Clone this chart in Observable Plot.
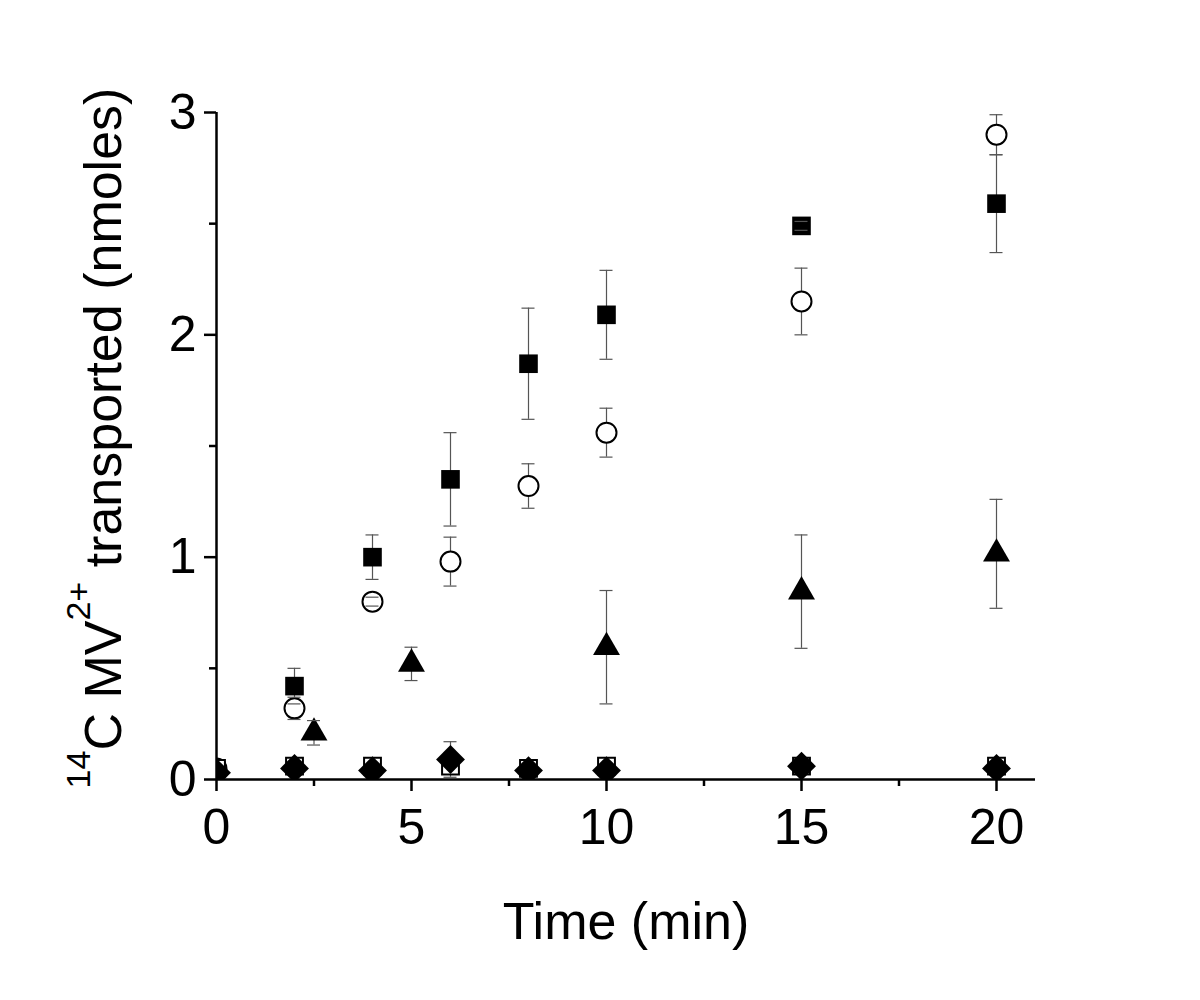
<!DOCTYPE html>
<html>
<head>
<meta charset="utf-8">
<script src="https://cdn.jsdelivr.net/npm/d3@7"></script>
<script src="https://cdn.jsdelivr.net/npm/@observablehq/plot@0.6"></script>
<style>
  body { margin: 0; background: #fff; }
</style>
</head>
<body>
<div id="chart"></div>
<script>
// ---- Data ----
// Filled squares
const sqFilledTime = [2, 4, 6, 8, 10, 15, 20];
const sqFilledVal  = [0.42, 1.00, 1.35, 1.87, 2.09, 2.49, 2.59];
const sqFilledErr  = [0.08, 0.10, 0.21, 0.25, 0.20, 0.02, 0.22];
// Open circles
const circTime = [0, 2, 4, 6, 8, 10, 15, 20];
const circVal  = [0.05, 0.32, 0.80, 0.98, 1.32, 1.56, 2.15, 2.90];
const circErr  = [0, 0.05, 0.02, 0.11, 0.10, 0.11, 0.15, 0.09];
// Filled triangles
const triTime = [2.5, 5, 10, 15, 20];
const triVal  = [0.21, 0.52, 0.595, 0.845, 1.015];
const triErr  = [0.055, 0.075, 0.255, 0.255, 0.245];
// Open squares
const sqOpenTime = [0, 2, 4, 6, 8, 10, 15, 20];
const sqOpenVal  = [0.05, 0.06, 0.06, 0.06, 0.05, 0.06, 0.06, 0.06];
// Filled diamonds
const diaTime = [0, 2, 4, 6, 8, 10, 15, 20];
const diaVal  = [0.03, 0.05, 0.04, 0.09, 0.04, 0.04, 0.06, 0.05];
const diaErr  = [0, 0, 0, 0.08, 0, 0, 0, 0];

// Axis ticks and labels
const xMajorTicks = [0, 5, 10, 15, 20];
const xMinorTicks = [2.5, 7.5, 12.5, 17.5];
const yMajorTicks = [0, 1, 2, 3];
const yMinorTicks = [0.5, 1.5, 2.5];
const xLabel = "Time (min)";
const yLabelParts = [
  {text: "14", sup: true},
  {text: "C MV", sup: false},
  {text: "2+", sup: true},
  {text: " transported (nmoles)", sup: false}
];

// ---- Tables ----
const mk = (ts, vs, es) => ts.map((t, i) => ({x: t, y: vs[i], err: es ? es[i] : 0}));
const sqFilled = mk(sqFilledTime, sqFilledVal, sqFilledErr);
const circ = mk(circTime, circVal, circErr);
const tri = mk(triTime, triVal, triErr);
const sqOpen = mk(sqOpenTime, sqOpenVal);
const dia = mk(diaTime, diaVal, diaErr);
const errs = [...sqFilled, ...circ, ...tri, ...dia].filter(d => d.err > 0);

const FONT = "Liberation Sans, Arial, Helvetica, sans-serif";
const errColor = "#555";

const plot = Plot.plot({
  width: 1200,
  height: 1000,
  marginLeft: 216,
  marginRight: 165,
  marginTop: 112,
  marginBottom: 221,
  style: {fontFamily: FONT, background: "#fff", color: "#000"},
  x: {domain: [0, 21]},
  y: {domain: [0, 3]},
  marks: [
    // error bar stems
    Plot.ruleX(errs, {x: "x", y1: d => d.y - d.err, y2: d => d.y + d.err, stroke: errColor, strokeWidth: 1.2}),
    // markers
    Plot.dot(sqFilled, {x: "x", y: "y", symbol: "square", r: 10.5, fill: "#000", stroke: "none", clip: true}),
    Plot.dot(circ, {x: "x", y: "y", symbol: "circle", r: 10, fill: "#fff", stroke: "#000", strokeWidth: 2, clip: true}),
    Plot.dot(tri, {x: "x", y: "y", symbol: "triangle", r: 10, fill: "#000", stroke: "none", clip: true}),
    Plot.dot(sqOpen, {x: "x", y: "y", symbol: "square", r: 9.5, fill: "#fff", stroke: "#000", strokeWidth: 2, clip: true}),
    Plot.dot(dia, {x: "x", y: "y", symbol: "diamond2", r: 13, fill: "#000", stroke: "none", clip: true}),
    // error bar caps
    Plot.ruleY(errs, {y: d => d.y + d.err, x1: "x", x2: "x", insetLeft: -6.5, insetRight: -6.5, stroke: errColor, strokeWidth: 1.2}),
    Plot.ruleY(errs, {y: d => d.y - d.err, x1: "x", x2: "x", insetLeft: -6.5, insetRight: -6.5, stroke: errColor, strokeWidth: 1.2}),
    // axes
    Plot.axisX({ticks: xMajorTicks, tickSize: 12, tickPadding: 17, fontSize: 50, strokeWidth: 2.5, label: null, tickFormat: d => String(d)}),
    Plot.axisX({ticks: xMinorTicks, tickSize: 7, strokeWidth: 2.5, label: null, tickFormat: () => ""}),
    Plot.axisY({ticks: yMajorTicks, tickSize: 12, tickPadding: 8, fontSize: 50, strokeWidth: 2.5, label: null, tickFormat: d => String(d)}),
    Plot.axisY({ticks: yMinorTicks, tickSize: 7, strokeWidth: 2.5, label: null, tickFormat: () => ""}),
    Plot.ruleX([0], {stroke: "#000", strokeWidth: 2.5}),
    Plot.ruleY([0], {stroke: "#000", strokeWidth: 2.5}),
    // x axis title
    Plot.text([xLabel], {text: d => d, frameAnchor: "bottom", lineAnchor: "bottom", dy: 159, fontSize: 52, fill: "#000"})
  ]
});

// y axis title with superscripts
const svg = d3.select(plot);
const yl = svg.append("text")
  .attr("transform", "translate(121,438) rotate(-90)")
  .attr("text-anchor", "middle")
  .attr("fill", "#000")
  .style("font-family", FONT)
  .style("font-size", "52px");
let raised = false;
yLabelParts.forEach(p => {
  const t = yl.append("tspan").text(p.text);
  if (p.sup) {
    t.style("font-size", "34px");
    if (!raised) { t.attr("dy", -31); raised = true; }
  } else {
    t.style("font-size", "52px");
    if (raised) { t.attr("dy", 31); raised = false; }
  }
});

document.getElementById("chart").appendChild(plot);
</script>
</body>
</html>
